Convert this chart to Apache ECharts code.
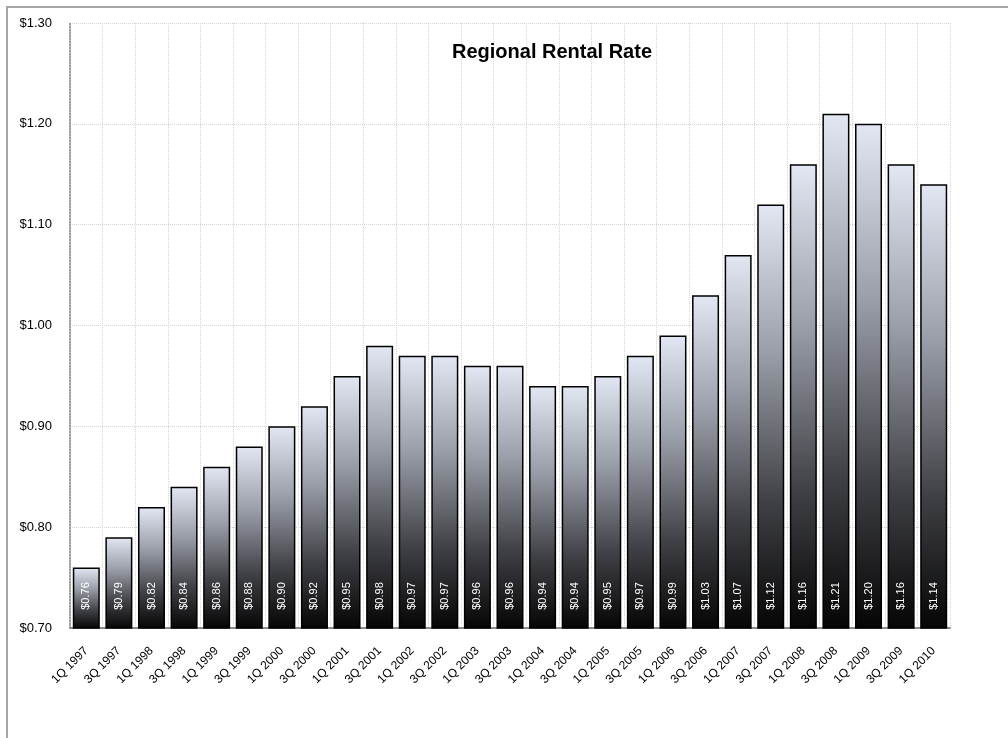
<!DOCTYPE html>
<html>
<head>
<meta charset="utf-8">
<script src="https://cdn.jsdelivr.net/npm/echarts@6/dist/echarts.min.js"></script>
<style>
html,body{margin:0;padding:0;background:#fff;}
#frame{position:absolute;left:6px;top:6px;width:1010px;height:740px;border-left:2px solid #a6a6a6;border-top:2px solid #a6a6a6;box-sizing:border-box;}
#chart{position:absolute;left:0;top:0;width:1008px;height:738px;}
</style>
</head>
<body>
<div id="frame"></div>
<div id="chart"></div>
<script>
const categories = ['1Q 1997','3Q 1997','1Q 1998','3Q 1998','1Q 1999','3Q 1999','1Q 2000','3Q 2000','1Q 2001','3Q 2001','1Q 2002','3Q 2002','1Q 2003','3Q 2003','1Q 2004','3Q 2004','1Q 2005','3Q 2005','1Q 2006','3Q 2006','1Q 2007','3Q 2007','1Q 2008','3Q 2008','1Q 2009','3Q 2009','1Q 2010'];
const rentalRate = [0.76,0.79,0.82,0.84,0.86,0.88,0.90,0.92,0.95,0.98,0.97,0.97,0.96,0.96,0.94,0.94,0.95,0.97,0.99,1.03,1.07,1.12,1.16,1.21,1.20,1.16,1.14];
const chartTitle = 'Regional Rental Rate';

const chart = echarts.init(document.getElementById('chart'), null, {renderer:'canvas'});
const font = 'Arial, "Liberation Sans", sans-serif';
chart.setOption({
  animation:false,
  title:{text:chartTitle,left:547,top:37,textAlign:'center',textStyle:{fontFamily:font,fontSize:20,fontWeight:'bold',color:'#000'}},
  grid:{left:70,right:58,top:23,bottom:110,containLabel:false},
  xAxis:{
    type:'category',data:categories,
    axisLine:{show:true,lineStyle:{color:'#8c8c8c',width:2}},
    axisTick:{show:false},
    axisLabel:{rotate:45,interval:0,fontFamily:font,fontSize:12,color:'#000',margin:21},
    splitLine:{show:true,interval:0,lineStyle:{color:'#d4d4d4',type:'dotted',width:1}}
  },
  yAxis:{
    type:'value',min:0.7,max:1.3,interval:0.1,
    axisLine:{show:true,lineStyle:{color:'#7f7f7f',type:'dotted',width:1.5}},
    axisTick:{show:false},
    axisLabel:{fontFamily:font,fontSize:13,color:'#000',margin:18,formatter:v=>'$'+v.toFixed(2)},
    splitLine:{show:true,lineStyle:{color:'#d4d4d4',type:'dotted',width:1}}
  },
  series:[{
    type:'bar',data:rentalRate,barWidth:27,
    itemStyle:{
      borderColor:'#000',borderWidth:1.5,
      color:new echarts.graphic.LinearGradient(0,0,0,1,[
        {offset:0,color:'#e2e7f3'},
        {offset:0.35,color:'#9a9ea8'},
        {offset:0.7,color:'#404146'},
        {offset:1,color:'#050505'}
      ])
    },
    label:{show:true,position:'insideBottom',rotate:90,align:'left',verticalAlign:'middle',distance:19,
      color:'#fff',fontFamily:font,fontSize:11,formatter:p=>'$'+p.value.toFixed(2)}
  }]
});
</script>
</body>
</html>
